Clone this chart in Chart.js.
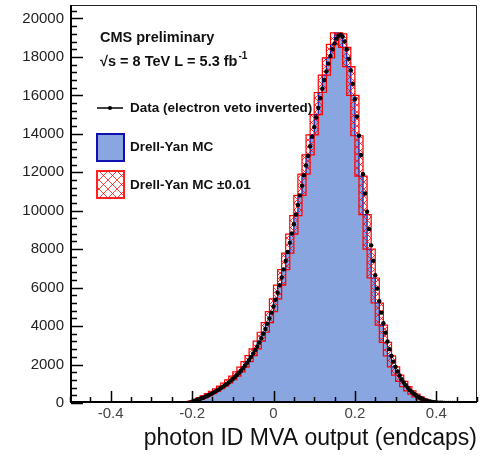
<!DOCTYPE html>
<html>
<head>
<meta charset="utf-8">
<script src="https://cdn.jsdelivr.net/npm/chart.js@4.4.1/dist/chart.umd.min.js"></script>
<style>
html, body { margin: 0; padding: 0; background: #fff; }
#wrap { width: 487px; height: 456px; }
</style>
</head>
<body>
<div id="wrap"><canvas id="c" width="487" height="456"></canvas></div>
<script>
// ---- data ----
const binEdges = [
    -0.21, -0.20, -0.19, -0.18, -0.17, -0.16, -0.15, -0.14, -0.13, -0.12, -0.11,
    -0.10, -0.09, -0.08, -0.07, -0.06, -0.05, -0.04, -0.03, -0.02, -0.01,
    0.00, 0.01, 0.02, 0.03, 0.04, 0.05, 0.06, 0.07, 0.08, 0.09,
    0.10, 0.11, 0.12, 0.13, 0.14, 0.15, 0.16, 0.17, 0.18, 0.19,
    0.20, 0.21, 0.22, 0.23, 0.24, 0.25, 0.26, 0.27, 0.28, 0.29,
    0.30, 0.31, 0.32, 0.33, 0.34, 0.35, 0.36, 0.37, 0.38, 0.39,
    0.40, 0.41, 0.42, 0.43, 0.44
];

// Drell-Yan MC, one value per bin
const mcValues = [
    0, 40, 110, 190, 280, 380, 490, 610, 740, 880, 1040,
    1210, 1400, 1620, 1870, 2150, 2460, 2810, 3220, 3680, 4180,
    4750, 5420, 6130, 6940, 7800, 8780, 9750, 10800, 11900, 12900,
    13950, 15000, 16150, 17050, 17950, 18650, 19250, 19200, 18500, 17500,
    16000, 13900, 11800, 9800, 8000, 6500, 5200, 4050, 3150, 2450,
    1880, 1450, 1120, 850, 630, 460, 320, 200, 110, 55,
    20, 5, 0, 0
];

// MC with MVA shifted by -0.01
const mcUpValues = [
    40, 110, 190, 280, 380, 490, 610, 740, 880, 1040, 1210,
    1400, 1620, 1870, 2150, 2460, 2810, 3220, 3680, 4180, 4750,
    5420, 6130, 6940, 7800, 8780, 9750, 10800, 11900, 12900, 13950,
    15000, 16150, 17050, 17950, 18650, 19250, 19200, 18500, 17500, 16000,
    13900, 11800, 9800, 8000, 6500, 5200, 4050, 3150, 2450, 1880,
    1450, 1120, 850, 630, 460, 320, 200, 110, 55, 20,
    5, 0, 0, 0
];

// MC with MVA shifted by +0.01
const mcDownValues = [
    0, 0, 40, 110, 190, 280, 380, 490, 610, 740, 880,
    1040, 1210, 1400, 1620, 1870, 2150, 2460, 2810, 3220, 3680,
    4180, 4750, 5420, 6130, 6940, 7800, 8780, 9750, 10800, 11900,
    12900, 13950, 15000, 16150, 17050, 17950, 18650, 19250, 19200, 18500,
    17500, 16000, 13900, 11800, 9800, 8000, 6500, 5200, 4050, 3150,
    2450, 1880, 1450, 1120, 850, 630, 460, 320, 200, 110,
    55, 20, 5, 0
];

// data points (electron veto inverted)
const dataX = [
    -0.205, -0.200, -0.195, -0.190, -0.185, -0.180, -0.175, -0.170, -0.165, -0.160,
    -0.155, -0.150, -0.145, -0.140, -0.135, -0.130, -0.125, -0.120, -0.115, -0.110,
    -0.105, -0.100, -0.095, -0.090, -0.085, -0.080, -0.075, -0.070, -0.065, -0.060,
    -0.055, -0.050, -0.045, -0.040, -0.035, -0.030, -0.025, -0.020, -0.015, -0.010,
    -0.005, 0.000, 0.005, 0.010, 0.015, 0.020, 0.025, 0.030, 0.035, 0.040,
    0.045, 0.050, 0.055, 0.060, 0.065, 0.070, 0.075, 0.080, 0.085, 0.090,
    0.095, 0.100, 0.105, 0.110, 0.115, 0.120, 0.125, 0.130, 0.135, 0.140,
    0.145, 0.150, 0.155, 0.160, 0.165, 0.170, 0.175, 0.180, 0.185, 0.190,
    0.195, 0.200, 0.205, 0.210, 0.215, 0.220, 0.225, 0.230, 0.235, 0.240,
    0.245, 0.250, 0.255, 0.260, 0.265, 0.270, 0.275, 0.280, 0.285, 0.290,
    0.295, 0.300, 0.305, 0.310, 0.315, 0.320, 0.325, 0.330, 0.335, 0.340,
    0.345, 0.350, 0.355, 0.360, 0.365, 0.370, 0.375, 0.380, 0.385, 0.390,
    0.395, 0.400, 0.405, 0.410, 0.415, 0.420, 0.425, 0.430, 0.435, 0.440,
    0.445
];
const dataY = [
    20, 60, 100, 140, 180, 220, 260, 300, 350, 400,
    450, 510, 570, 630, 700, 770, 840, 910, 990, 1070,
    1160, 1250, 1350, 1450, 1560, 1680, 1810, 1950, 2090, 2240,
    2400, 2570, 2750, 2940, 3150, 3370, 3600, 3850, 4120, 4400,
    4700, 5020, 5370, 5740, 6130, 6530, 6950, 7390, 7850, 8330,
    8820, 9300, 9800, 10300, 10800, 11300, 11850, 12350, 12850, 13350,
    13850, 14350, 14850, 15350, 15850, 16350, 16800, 17250, 17650, 18050,
    18400, 18700, 18950, 19100, 19150, 19050, 18800, 18400, 17900, 17300,
    16600, 15800, 14900, 13900, 12900, 11900, 10900, 9950, 9050, 8200,
    7400, 6650, 5950, 5300, 4700, 4150, 3650, 3200, 2800, 2450,
    2150, 1880, 1640, 1430, 1240, 1070, 920, 790, 670, 570,
    480, 400, 330, 270, 220, 170, 130, 100, 75, 55,
    40, 30, 20, 15, 10, 8, 5, 3, 2, 1,
    1
];

const xTicks = [-0.4, -0.2, 0, 0.2, 0.4];
const xTickLabels = ['-0.4', '-0.2', '0', '0.2', '0.4'];
const yTicks = [0, 2000, 4000, 6000, 8000, 10000, 12000, 14000, 16000, 18000, 20000];

const FONT = '"Liberation Sans", Arial, sans-serif';
const MC_FILL = '#8aa6e0';
const MC_LINE = '#1010b0';

function toSteps(values) {
    return binEdges.map((x, i) => ({ x: x, y: i < values.length ? values[i] : 0 }));
}

function makeHatch(size) {
    const c = document.createElement('canvas');
    c.width = size; c.height = size;
    const g = c.getContext('2d');
    g.strokeStyle = 'rgba(255,0,0,0.75)';
    g.lineWidth = 1;
    g.beginPath();
    g.moveTo(0, 0); g.lineTo(size, size);
    g.moveTo(size, 0); g.lineTo(0, size);
    g.stroke();
    return g.createPattern(c, 'repeat');
}

// ROOT style frame, inward ticks, labels and legend
const frameAndLegend = {
    id: 'frameAndLegend',
    afterDraw(chart) {
        const ctx = chart.ctx;
        const a = chart.chartArea;
        const xs = chart.scales.x, ys = chart.scales.y;
        ctx.save();

        // frame
        ctx.strokeStyle = '#222';
        ctx.lineWidth = 1;
        ctx.beginPath();
        ctx.moveTo(a.left, a.top + 0.5); ctx.lineTo(a.right - 0.5, a.top + 0.5);
        ctx.lineTo(a.right - 0.5, a.bottom);
        ctx.stroke();
        ctx.strokeStyle = '#000';
        ctx.lineWidth = 2;
        ctx.beginPath();
        ctx.moveTo(a.left + 1, a.top); ctx.lineTo(a.left + 1, a.bottom);
        ctx.moveTo(a.left, a.bottom - 1); ctx.lineTo(a.right, a.bottom - 1);
        ctx.stroke();

        // ticks
        ctx.lineWidth = 1.5;
        ctx.beginPath();
        for (let v = -0.5; v <= 0.5001; v += 0.05) {
            const px = Math.round(xs.getPixelForValue(v)) + 0.5;
            const major = xTicks.some(t => Math.abs(t - v) < 1e-6);
            ctx.moveTo(px, a.bottom - 1);
            ctx.lineTo(px, a.bottom - (major ? 12 : 6));
        }
        for (let v = 0; v <= 20400; v += 400) {
            const py = Math.round(ys.getPixelForValue(v)) + 0.5;
            const major = v % 2000 === 0;
            ctx.moveTo(a.left + 1, py);
            ctx.lineTo(a.left + (major ? 13 : 7), py);
        }
        ctx.stroke();

        // header text
        ctx.fillStyle = '#111';
        ctx.textBaseline = 'middle';
        ctx.textAlign = 'left';
        ctx.font = 'bold 14.5px ' + FONT;
        ctx.fillText('CMS preliminary', 100, 38);
        const s1 = '\u221As = 8 TeV L = 5.3 fb';
        ctx.fillText(s1, 100, 62);
        const w1 = ctx.measureText(s1).width;
        ctx.font = 'bold 10px ' + FONT;
        ctx.fillText('-1', 100 + w1 + 1, 56);

        // legend
        ctx.font = 'bold 13.5px ' + FONT;
        ctx.strokeStyle = '#000';
        ctx.lineWidth = 1.5;
        ctx.beginPath();
        ctx.moveTo(97, 108); ctx.lineTo(123, 108);
        ctx.stroke();
        ctx.fillStyle = '#000';
        ctx.beginPath();
        ctx.arc(110, 108, 2, 0, Math.PI * 2);
        ctx.fill();
        ctx.fillStyle = '#111';
        ctx.fillText('Data (electron veto inverted)', 130, 108);

        ctx.fillStyle = MC_FILL;
        ctx.fillRect(97, 134, 27, 27);
        ctx.strokeStyle = MC_LINE;
        ctx.lineWidth = 2;
        ctx.strokeRect(97, 134, 27, 27);
        ctx.fillStyle = '#111';
        ctx.fillText('Drell-Yan MC', 130, 147);

        ctx.fillStyle = makeHatch(9);
        ctx.fillRect(97, 171, 27, 27);
        ctx.strokeStyle = '#ff2020';
        ctx.lineWidth = 2;
        ctx.strokeRect(97, 171, 27, 27);
        ctx.fillStyle = '#111';
        ctx.fillText('Drell-Yan MC \u00B10.01', 130, 185);

        ctx.restore();
    }
};

const ctx = document.getElementById('c');
new Chart(ctx, {
    type: 'line',
    data: {
        datasets: [
            {
                label: 'Data (electron veto inverted)',
                type: 'scatter',
                data: dataX.map((x, i) => ({ x: x, y: dataY[i] })),
                backgroundColor: '#000',
                borderColor: '#000',
                pointRadius: 2.2,
                pointBorderWidth: 0,
                showLine: false,
                order: 0
            },
            {
                label: 'MC -0.01',
                data: toSteps(mcUpValues),
                stepped: 'after',
                borderColor: '#ff0000',
                borderWidth: 1.2,
                pointRadius: 0,
                fill: false,
                order: 1
            },
            {
                label: 'MC +0.01',
                data: toSteps(mcDownValues),
                stepped: 'after',
                borderColor: '#ff0000',
                borderWidth: 1.2,
                pointRadius: 0,
                fill: 1,
                backgroundColor: makeHatch(7),
                order: 2
            },
            {
                label: 'Drell-Yan MC',
                data: toSteps(mcValues),
                stepped: 'after',
                borderColor: MC_LINE,
                borderWidth: 1.2,
                pointRadius: 0,
                fill: 'origin',
                backgroundColor: MC_FILL,
                order: 3
            }
        ]
    },
    options: {
        responsive: false,
        animation: false,
        devicePixelRatio: 1,
        layout: { padding: { top: 5, right: 10, left: 0, bottom: 0 } },
        plugins: {
            legend: { display: false },
            tooltip: { enabled: false }
        },
        scales: {
            x: {
                type: 'linear',
                min: -0.5,
                max: 0.5,
                grid: { display: false, drawTicks: false },
                border: { display: false },
                afterBuildTicks(scale) {
                    scale.ticks = xTicks.map(v => ({ value: v }));
                },
                afterFit(scale) {
                    scale.height = 53;
                    scale.paddingLeft = 0;
                    scale.paddingRight = 0;
                },
                ticks: {
                    padding: 2,
                    maxRotation: 0,
                    color: '#444',
                    font: { family: FONT, size: 15 },
                    callback: (v, i) => xTickLabels[i]
                },
                title: {
                    display: true,
                    text: 'photon ID MVA output (endcaps)',
                    align: 'end',
                    color: '#111',
                    font: { family: FONT, size: 23 },
                    padding: { top: 0, bottom: 4 }
                }
            },
            y: {
                min: 0,
                max: 20700,
                grid: { display: false, drawTicks: false },
                border: { display: false },
                afterBuildTicks(scale) {
                    scale.ticks = yTicks.map(v => ({ value: v }));
                },
                afterFit(scale) {
                    scale.width = 70;
                    scale.paddingTop = 0;
                    scale.paddingBottom = 0;
                },
                ticks: {
                    padding: 6,
                    color: '#222',
                    font: { family: FONT, size: 15 },
                    callback: v => String(v)
                }
            }
        }
    },
    plugins: [frameAndLegend]
});
</script>
</body>
</html>
